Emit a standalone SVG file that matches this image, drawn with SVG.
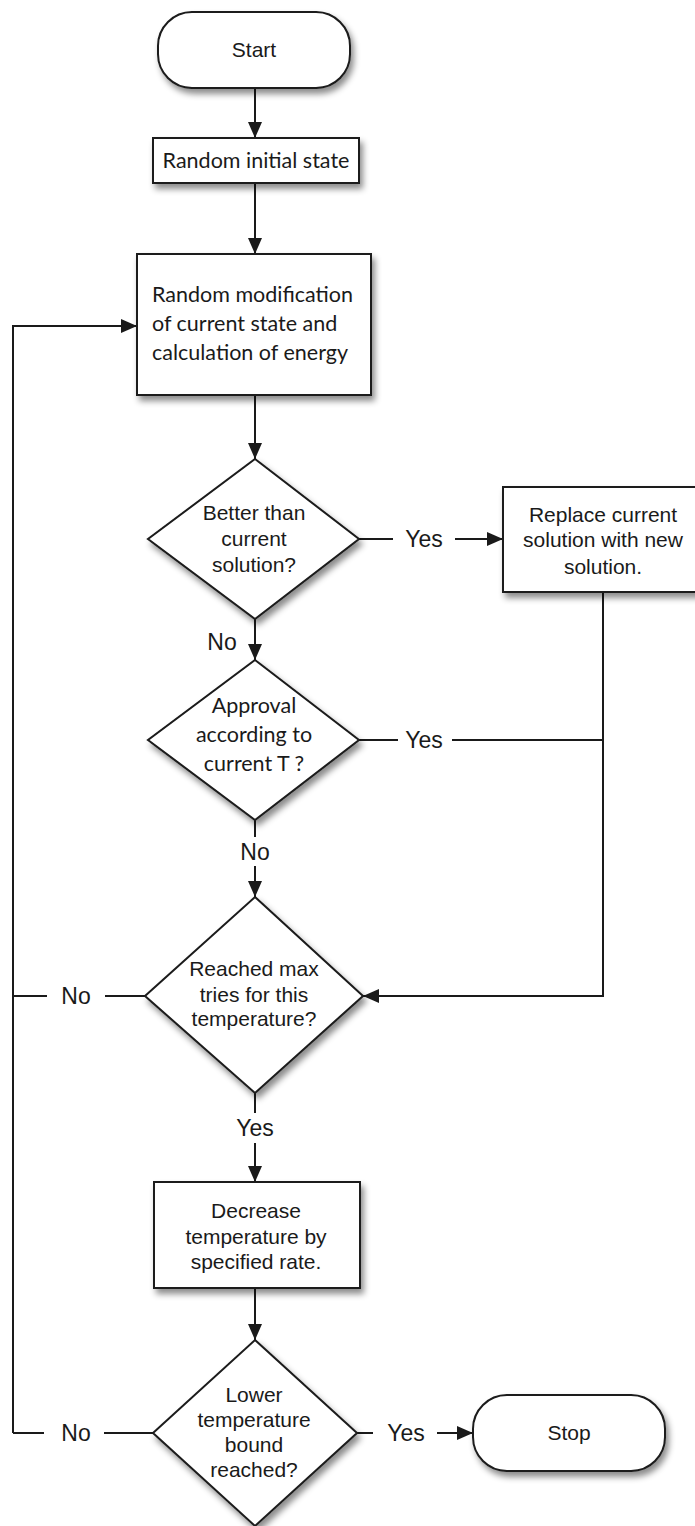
<svg xmlns="http://www.w3.org/2000/svg" width="695" height="1526" viewBox="0 0 695 1526">
<style>
.shape{fill:#fff;stroke:#1a1a1a;stroke-width:2;filter:url(#sh)}
.ln{fill:none;stroke:#1a1a1a;stroke-width:2}
.arr{marker-end:url(#ah)}
.h{font-family:"Liberation Sans",Arial,sans-serif;font-size:21px;fill:#1a1a1a;text-anchor:middle}
.c{font-family:Lato,"Open Sans",sans-serif;font-size:21.5px;fill:#1a1a1a;text-anchor:middle}
.cl{text-anchor:start}
.lbl{font-family:"Liberation Sans",Arial,sans-serif;font-size:23px;fill:#1a1a1a;text-anchor:middle}
</style>
<defs>
<filter id="sh" x="-20%" y="-20%" width="150%" height="160%">
<feDropShadow dx="3" dy="5" stdDeviation="3" flood-color="#000" flood-opacity="0.45"/>
</filter>
<marker id="ah" markerUnits="userSpaceOnUse" markerWidth="17" markerHeight="14" refX="16" refY="7" orient="auto">
<path d="M0,0 L16,7 L0,14 Z" fill="#1a1a1a"/>
</marker>
</defs>
<rect width="695" height="1526" fill="#fff"/>
<g id="connectors">
<line class="ln arr" x1="255" y1="88" x2="255" y2="138"/>
<line class="ln arr" x1="255" y1="183" x2="255" y2="254"/>
<line class="ln arr" x1="255" y1="395" x2="255" y2="459"/>
<line class="ln" x1="359" y1="539" x2="393" y2="539"/>
<text class="lbl" x="424" y="547">Yes</text>
<line class="ln arr" x1="455" y1="539" x2="503" y2="539"/>
<line class="ln arr" x1="255" y1="619" x2="255" y2="660"/>
<text class="lbl" x="222" y="650">No</text>
<line class="ln" x1="359" y1="740" x2="398" y2="740"/>
<text class="lbl" x="424" y="748">Yes</text>
<line class="ln" x1="452" y1="740" x2="603" y2="740"/>
<polyline class="ln arr" points="603,592 603,996 363,996"/>
<line class="ln" x1="255" y1="820" x2="255" y2="837"/>
<text class="lbl" x="255" y="860">No</text>
<line class="ln arr" x1="255" y1="866" x2="255" y2="897"/>
<line class="ln" x1="145" y1="996" x2="105" y2="996"/>
<text class="lbl" x="76" y="1004">No</text>
<line class="ln" x1="47" y1="996" x2="13" y2="996"/>
<polyline class="ln arr" points="13,1433 13,326 137,326"/>
<line class="ln" x1="255" y1="1093" x2="255" y2="1113"/>
<text class="lbl" x="255" y="1136">Yes</text>
<line class="ln arr" x1="255" y1="1143" x2="255" y2="1182"/>
<line class="ln arr" x1="255" y1="1288" x2="255" y2="1340"/>
<line class="ln" x1="153" y1="1433" x2="104" y2="1433"/>
<text class="lbl" x="76" y="1441">No</text>
<line class="ln" x1="44" y1="1433" x2="13" y2="1433"/>
<line class="ln" x1="357" y1="1433" x2="373" y2="1433"/>
<text class="lbl" x="406" y="1441">Yes</text>
<line class="ln arr" x1="437" y1="1433" x2="473" y2="1433"/>
</g>
<g id="start">
<rect class="shape" x="158" y="12" width="192" height="76" rx="34" ry="34"/>
<text class="h" x="254" y="57">Start</text>
</g>
<g id="init">
<rect class="shape" x="153" y="138" width="206" height="45"/>
<text class="c" x="256" y="168">Random initial state</text>
</g>
<g id="modify">
<rect class="shape" x="137" y="254" width="234" height="141"/>
<text class="c cl" x="152" y="302">Random modification</text>
<text class="c cl" x="152" y="331">of current state and</text>
<text class="c cl" x="152" y="360">calculation of energy</text>
</g>
<g id="better">
<polygon class="shape" points="255,459 359,539 255,619 148,539"/>
<text class="h" x="254" y="520">Better than</text>
<text class="h" x="254" y="546">current</text>
<text class="h" x="254" y="572">solution?</text>
</g>
<g id="replace">
<rect class="shape" x="503" y="487" width="200" height="105"/>
<text class="h" x="603" y="522">Replace current</text>
<text class="h" x="603" y="547">solution with new</text>
<text class="h" x="603" y="574">solution.</text>
</g>
<g id="approval">
<polygon class="shape" points="255,660 359,740 255,820 148,740"/>
<text class="c" x="254" y="713">Approval</text>
<text class="c" x="254" y="742">according to</text>
<text class="c" x="254" y="771">current T ?</text>
</g>
<g id="maxtries">
<polygon class="shape" points="255,897 363,996 255,1093 145,996"/>
<text class="h" x="254" y="976">Reached max</text>
<text class="h" x="254" y="1002">tries for this</text>
<text class="h" x="254" y="1026">temperature?</text>
</g>
<g id="decrease">
<rect class="shape" x="154" y="1182" width="206" height="106"/>
<text class="h" x="256" y="1218">Decrease</text>
<text class="h" x="256" y="1244">temperature by</text>
<text class="h" x="256" y="1269">specified rate.</text>
</g>
<g id="lower">
<polygon class="shape" points="255,1340 357,1433 255,1526 153,1433"/>
<text class="h" x="254" y="1402">Lower</text>
<text class="h" x="254" y="1427">temperature</text>
<text class="h" x="254" y="1452">bound</text>
<text class="h" x="254" y="1477">reached?</text>
</g>
<g id="stop">
<rect class="shape" x="473" y="1395" width="192" height="76" rx="34" ry="34"/>
<text class="h" x="569" y="1440">Stop</text>
</g>
</svg>
